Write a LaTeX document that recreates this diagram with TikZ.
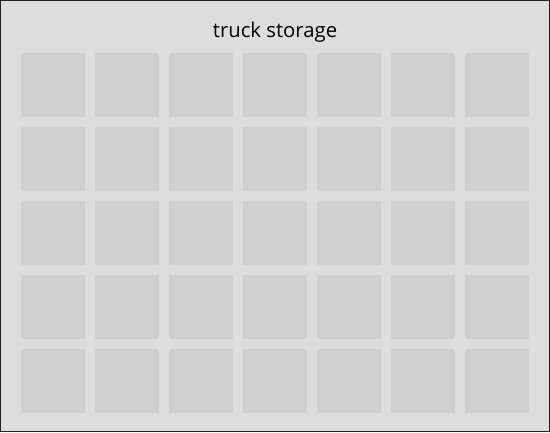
\documentclass[tikz,border=0pt]{standalone}
\usepackage{fontspec}
\setmainfont{Open Sans}
\usetikzlibrary{positioning}
\definecolor{boxfill}{HTML}{DDDDDD}
\definecolor{slotfill}{HTML}{D0D0D0}
\definecolor{boxline}{HTML}{222222}
\tikzset{
    % storage frame
    storagebox/.style={
        draw=boxline,
        line width=1pt,
        fill=boxfill
    },
    % one slot of the grid
    slotbox/.style={
        draw=none,
        fill=slotfill,
        minimum width=64pt,
        minimum height=64pt,
        inner sep=0pt,
        outer sep=0pt
    }
}

\begin{document}
\begin{tikzpicture}[x=1pt,y=-1pt]
    \useasboundingbox (0,0) rectangle (550,432);
    % frame
    \draw[storagebox] (0.5,0.5) rectangle (549.5,431.5);

    % title
    \node[text=black,font=\fontsize{20.3}{22}\selectfont,anchor=base,inner sep=0pt] (title) at (275,37.5) {truck storage};

    % slots: 7 columns, 5 rows
    \foreach \r in {0,...,4}{
        \foreach \c in {0,...,6}{
            \node[slotbox] (slot-\r-\c) at ({53+74*\c},{85+74*\r}) {};
        }
    }
\end{tikzpicture}
\end{document}
